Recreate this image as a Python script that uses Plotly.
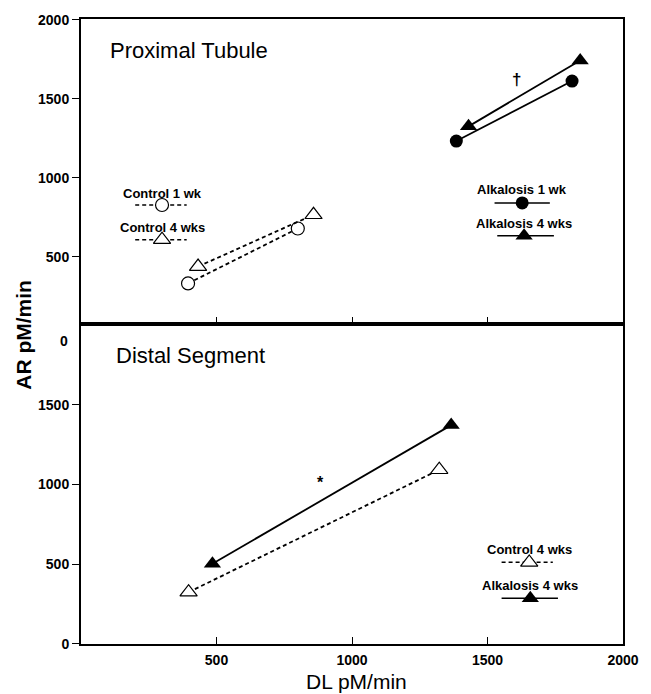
import plotly.graph_objects as go

# ---------------- data ----------------
# Proximal tubule
pt_ctrl1_x = [395, 800]
pt_ctrl1_y = [330, 678]
pt_ctrl4_x = [432, 858]
pt_ctrl4_y = [437, 765]
pt_alk1_x = [1385, 1812]
pt_alk1_y = [1232, 1612]
pt_alk4_x = [1430, 1842]
pt_alk4_y = [1325, 1742]

# Distal segment
ds_ctrl4_x = [397, 1322]
ds_ctrl4_y = [325, 1093]
ds_alk4_x = [485, 1366]
ds_alk4_y = [503, 1373]

x_ticks = [500, 1000, 1500, 2000]
pt_y_ticks = [500, 1000, 1500, 2000]
ds_y_ticks = [0, 500, 1000, 1500]

# legend sample positions (data units)
pt_leg = [
    # label, marker x, line x0, line x1, line y, text y, symbol, dash
    ("Control 1 wk", 299, 200, 390, 827, 897, "circle-open", "dash"),
    ("Control 4 wks", 299, 200, 390, 607, 682, "triangle-up-open", "dash"),
    ("Alkalosis 1 wk", 1628, 1526, 1730, 840, 922, "circle", "solid"),
    ("Alkalosis 4 wks", 1635, 1536, 1745, 632, 707, "triangle-up", "solid"),
]
ds_leg = [
    ("Control 4 wks", 1654, 1552, 1741, 512, 594, "triangle-up-open", "dash"),
    ("Alkalosis 4 wks", 1658, 1552, 1760, 287, 369, "triangle-up", "solid"),
]

FONT = "Liberation Sans, Arial, sans-serif"
BLACK = "black"

fig = go.Figure()


def marker_for(sym):
    open_ = sym.endswith("-open")
    base = sym.replace("-open", "")
    size = 13 if base == "circle" else 15
    if open_:
        return dict(symbol=base, size=size, color="white",
                    line=dict(color=BLACK, width=1.2))
    return dict(symbol=base, size=size, color=BLACK,
                line=dict(color=BLACK, width=0))


def add_series(x, y, sym, dash, xa, ya):
    fig.add_trace(go.Scatter(
        x=x, y=y, mode="lines+markers", xaxis=xa, yaxis=ya,
        line=dict(color=BLACK, width=1.8, dash="4px,3px" if dash == "dash" else "solid"),
        marker=marker_for(sym), showlegend=False, hoverinfo="skip"))


add_series(pt_ctrl1_x, pt_ctrl1_y, "circle-open", "dash", "x", "y")
add_series(pt_ctrl4_x, pt_ctrl4_y, "triangle-up-open", "dash", "x", "y")
add_series(pt_alk1_x, pt_alk1_y, "circle", "solid", "x", "y")
add_series(pt_alk4_x, pt_alk4_y, "triangle-up", "solid", "x", "y")
add_series(ds_ctrl4_x, ds_ctrl4_y, "triangle-up-open", "dash", "x2", "y2")
add_series(ds_alk4_x, ds_alk4_y, "triangle-up", "solid", "x2", "y2")

annotations = []


def add_legend(items, xa, ya):
    for label, mx, x0, x1, ly, ty, sym, dash in items:
        fig.add_trace(go.Scatter(
            x=[x0, x1], y=[ly, ly], mode="lines", xaxis=xa, yaxis=ya,
            line=dict(color=BLACK, width=1.5, dash="4px,3px" if dash == "dash" else "solid"),
            showlegend=False, hoverinfo="skip"))
        fig.add_trace(go.Scatter(
            x=[mx], y=[ly], mode="markers", xaxis=xa, yaxis=ya,
            marker=marker_for(sym), showlegend=False, hoverinfo="skip"))
        annotations.append(dict(
            x=mx, y=ty, xref=xa, yref=ya, text=label, showarrow=False,
            xanchor="center", yanchor="middle",
            font=dict(family=FONT, size=13, color=BLACK, weight="bold")))


add_legend(pt_leg, "x", "y")
add_legend(ds_leg, "x2", "y2")

# panel titles
annotations.append(dict(x=99, y=1805, xref="x", yref="y", text="Proximal Tubule",
                        showarrow=False, xanchor="left", yanchor="middle",
                        font=dict(family=FONT, size=22, color=BLACK)))
annotations.append(dict(x=120, y=1812, xref="x2", yref="y2", text="Distal Segment",
                        showarrow=False, xanchor="left", yanchor="middle",
                        font=dict(family=FONT, size=22, color=BLACK)))
# significance marks
annotations.append(dict(x=1606, y=1622, xref="x", yref="y", text="†",
                        showarrow=False, font=dict(family=FONT, size=17, color=BLACK, weight="bold")))
annotations.append(dict(x=885, y=1012, xref="x2", yref="y2", text="*",
                        showarrow=False, font=dict(family=FONT, size=16, color=BLACK, weight="bold")))
# stray "0" at the top of the lower axis
annotations.append(dict(x=-0.02, y=1898, xref="paper", yref="y2", text="0",
                        showarrow=False, xanchor="right", yanchor="middle",
                        font=dict(family=FONT, size=14, color=BLACK, weight="bold")))
# axis titles
annotations.append(dict(x=-0.105, y=0.495, xref="paper", yref="paper", text="AR pM/min",
                        textangle=-90, showarrow=False, xanchor="center", yanchor="middle",
                        font=dict(family=FONT, size=21, color=BLACK, weight="bold")))
annotations.append(dict(x=0.508, y=-0.0605, xref="paper", yref="paper", text="DL pM/min",
                        showarrow=False, xanchor="center", yanchor="middle",
                        font=dict(family=FONT, size=21, color=BLACK)))

split = 322 / 628
tickfont = dict(family=FONT, size=14, color=BLACK, weight="bold")
axis_common = dict(showline=True, linecolor=BLACK, linewidth=2, mirror=True,
                   showgrid=False, zeroline=False)

fig.update_layout(
    width=651, height=694,
    margin=dict(l=81, r=20, t=16, b=50),
    paper_bgcolor="white", plot_bgcolor="white",
    showlegend=False,
    annotations=annotations,
    xaxis=dict(domain=[0, 1], anchor="y", range=[0, 2000], tickvals=x_ticks[:3],
               showticklabels=False, ticks="inside", ticklen=7, tickcolor=BLACK, tickwidth=1.2,
               **axis_common),
    yaxis=dict(domain=[split, 1], anchor="x", range=[76, 2005], tickvals=pt_y_ticks,
               ticks="outside", ticklen=7, tickcolor=BLACK, tickwidth=1.2, tickfont=tickfont,
               **axis_common),
    xaxis2=dict(domain=[0, 1], anchor="y2", range=[0, 2000], tickvals=x_ticks,
                ticks="inside", ticklen=7, tickcolor=BLACK, tickwidth=1.2, tickfont=tickfont,
                ticklabelstandoff=2, **axis_common),
    yaxis2=dict(domain=[0, split], anchor="x2", range=[0, 2010], tickvals=ds_y_ticks,
                ticks="outside", ticklen=7, tickcolor=BLACK, tickwidth=1.2, tickfont=tickfont,
                **axis_common),
)

fig.write_html("out.html",
               config={"displayModeBar": False},
               post_script="document.body.style.margin='0';document.body.style.overflow='hidden';")
